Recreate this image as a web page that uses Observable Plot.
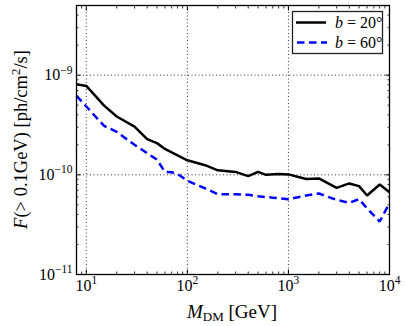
<!DOCTYPE html>
<html><head><meta charset="utf-8">
<script src="https://cdn.jsdelivr.net/npm/d3@7"></script>
<script src="https://cdn.jsdelivr.net/npm/@observablehq/plot@0.6"></script>
<style>html,body{margin:0;padding:0;background:#fff}svg{display:block}</style>
</head><body><div id="chart"></div>
<script>
// --- data ---
const massB20 = [8,10,15,20,30,40,50,60,70,80,100,150,200,300,400,500,600,800,1000,1500,2000,3000,4000,5000,6000,8000,10000];
const fluxB20 = [8.1e-10,7.8e-10,4.95e-10,3.85e-10,3.05e-10,2.28e-10,2.08e-10,1.82e-10,1.68e-10,1.57e-10,1.40e-10,1.25e-10,1.11e-10,1.07e-10,0.97e-10,1.07e-10,1.00e-10,1.02e-10,1.01e-10,0.91e-10,0.92e-10,0.74e-10,0.82e-10,0.77e-10,0.62e-10,0.80e-10,0.67e-10];
const massB60 = [8,10,15,20,30,40,50,60,70,80,90,100,150,200,300,400,500,700,1000,1500,2000,3000,4000,5000,6000,8000,10000];
const fluxB60 = [6.2e-10,4.85e-10,3.1e-10,2.7e-10,2.0e-10,1.65e-10,1.42e-10,1.07e-10,1.06e-10,1.02e-10,0.94e-10,0.87e-10,0.73e-10,0.64e-10,0.64e-10,0.63e-10,0.61e-10,0.59e-10,0.57e-10,0.62e-10,0.65e-10,0.56e-10,0.525e-10,0.57e-10,0.46e-10,0.34e-10,0.52e-10];
const seriesLabels = ["b = 20°", "b = 60°"];
const xMajor = [10,100,1000,10000];
const yMajor = [1e-11,1e-10,1e-9];
const xGrid = [10,100,1000];
const yGrid = [1e-10,1e-9];
const xMinor = [8,9,20,30,40,50,60,70,80,90,200,300,400,500,600,700,800,900,2000,3000,4000,5000,6000,7000,8000,9000];
const yMinor = [2e-11,3e-11,4e-11,5e-11,6e-11,7e-11,8e-11,9e-11,2e-10,3e-10,4e-10,5e-10,6e-10,7e-10,8e-10,9e-10,2e-9,3e-9,4e-9,5e-9];

const d20 = massB20.map((m,i)=>({m, f: fluxB20[i]}));
const d60 = massB60.map((m,i)=>({m, f: fluxB60[i]}));

const FONT = "'Times New Roman', 'Liberation Serif', serif";
const fmt = d => "10^" + Math.round(Math.log10(d));
const blank = () => "";
const MAJ = 4.5, MIN = 2.5;

const svg = Plot.plot({
  width: 407, height: 326,
  marginLeft: 76, marginRight: 18, marginTop: 5, marginBottom: 52,
  style: {fontFamily: FONT, fontSize: "16px", background: "#fff", color: "#000"},
  x: {type: "log", domain: [8, 10000]},
  y: {type: "log", domain: [1e-11, 5e-9]},
  marks: [
    Plot.gridX(xGrid, {stroke: "#000", strokeOpacity: 1, strokeWidth: 0.8, strokeDasharray: "1,2.5"}),
    Plot.gridY(yGrid, {stroke: "#000", strokeOpacity: 1, strokeWidth: 0.8, strokeDasharray: "1,2.5"}),
    Plot.line(d20, {x: "m", y: "f", stroke: "#000", strokeWidth: 2.5, strokeLinejoin: "miter", strokeLinecap: "butt"}),
    Plot.line(d60, {x: "m", y: "f", stroke: "#0000ff", strokeWidth: 2.5, strokeDasharray: "7.5,4.5", strokeLinejoin: "miter", strokeLinecap: "butt"}),
    // inward ticks, all four sides
    Plot.axisX(xMajor, {anchor: "bottom", tickSize: -MAJ, tickFormat: blank, label: null, strokeWidth: 1}),
    Plot.axisX(xMinor, {anchor: "bottom", tickSize: -MIN, tickFormat: blank, label: null, strokeWidth: 0.8}),
    Plot.axisX(xMajor, {anchor: "top", tickSize: -MAJ, tickFormat: blank, label: null, strokeWidth: 1}),
    Plot.axisX(xMinor, {anchor: "top", tickSize: -MIN, tickFormat: blank, label: null, strokeWidth: 0.8}),
    Plot.axisY(yMajor, {anchor: "left", tickSize: -MAJ, tickFormat: blank, label: null, strokeWidth: 1}),
    Plot.axisY(yMinor, {anchor: "left", tickSize: -MIN, tickFormat: blank, label: null, strokeWidth: 0.8}),
    Plot.axisY(yMajor, {anchor: "right", tickSize: -MAJ, tickFormat: blank, label: null, strokeWidth: 1}),
    Plot.axisY(yMinor, {anchor: "right", tickSize: -MIN, tickFormat: blank, label: null, strokeWidth: 0.8}),
    // tick labels
    Plot.axisX(xMajor, {anchor: "bottom", tickSize: 0, tickPadding: 5, tickFormat: fmt, label: null, fontSize: 16, fontFamily: FONT}),
    Plot.axisY(yMajor, {anchor: "left", tickSize: 0, tickPadding: 4, tickFormat: fmt, label: null, fontSize: 16, fontFamily: FONT}),
    Plot.frame({stroke: "#000", strokeWidth: 1.3})
  ]
});
document.getElementById("chart").appendChild(svg);

const NS = "http://www.w3.org/2000/svg";
function tspan(parent, txt, attrs = {}) {
  const t = document.createElementNS(NS, "tspan");
  t.textContent = txt;
  for (const k in attrs) t.setAttribute(k, attrs[k]);
  parent.appendChild(t);
  return t;
}
// superscripts in tick labels
svg.querySelectorAll("text").forEach(t => {
  const m = t.textContent.match(/^10\^(-?\d+)$/);
  if (!m) return;
  t.textContent = "";
  tspan(t, "10");
  tspan(t, m[1].replace("-", "\u2212"), {"font-size": "11.5px", dy: "-6.5"});
});

const root = d3.select(svg);
// y axis label
const yl = root.append("text")
  .attr("transform", "translate(27,139.5) rotate(-90)")
  .attr("text-anchor", "middle")
  .attr("font-size", 18.5).attr("fill", "#000").node();
tspan(yl, "F", {"font-style": "italic"});
tspan(yl, "(> 0.1GeV) [ph/cm");
tspan(yl, "2", {"font-size": "13px", dy: "-7"});
tspan(yl, "/s]", {dy: "7"});
// x axis label
const xl = root.append("text")
  .attr("x", 232).attr("y", 318)
  .attr("text-anchor", "middle")
  .attr("font-size", 19).attr("fill", "#000").node();
tspan(xl, "M", {"font-style": "italic"});
tspan(xl, "DM", {"font-size": "13px", dy: "3"});
tspan(xl, " [GeV]", {dy: "-3"});

// legend
const lg = root.append("g").attr("font-size", 16).attr("text-anchor", "start");
lg.append("rect").attr("x", 292.5).attr("y", 11.5).attr("width", 90).attr("height", 42)
  .attr("fill", "#fff").attr("stroke", "#222").attr("stroke-width", 1.3);
lg.append("line").attr("x1", 296).attr("x2", 326).attr("y1", 22.5).attr("y2", 22.5)
  .attr("stroke", "#000").attr("stroke-width", 2.5);
lg.append("line").attr("x1", 297).attr("x2", 327).attr("y1", 42.5).attr("y2", 42.5)
  .attr("stroke", "#0000ff").attr("stroke-width", 2.5).attr("stroke-dasharray", "7.5,4.5");
[[seriesLabels[0], 28], [seriesLabels[1], 48]].forEach(([s, y]) => {
  const t = lg.append("text").attr("x", 335).attr("y", y).attr("fill", "#000").attr("text-anchor", "start").node();
  tspan(t, s[0], {"font-style": "italic"});
  tspan(t, s.slice(1));
});
// force the serif family everywhere
svg.querySelectorAll("text, g").forEach(el => el.setAttribute("font-family", FONT));
svg.style.fontFamily = FONT;
</script>
</body></html>
